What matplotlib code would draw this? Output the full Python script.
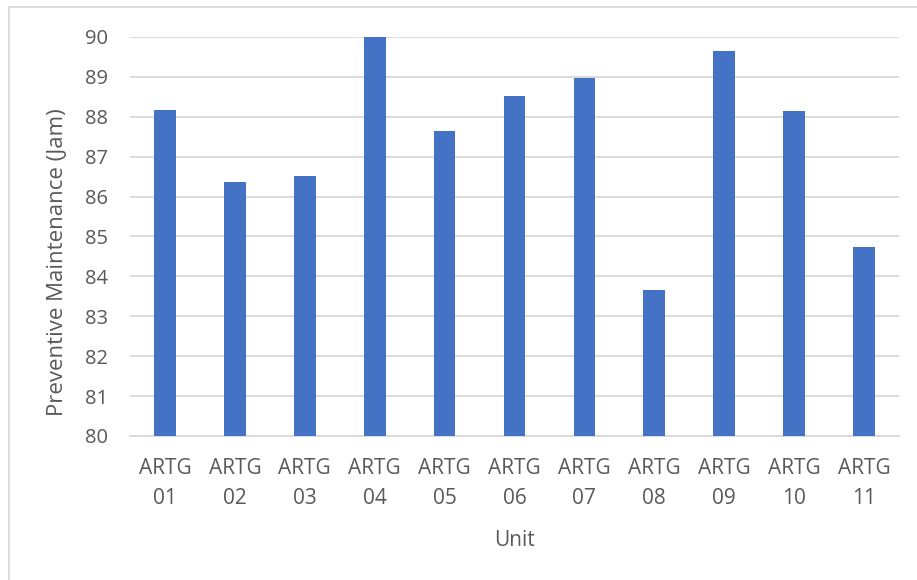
import matplotlib.pyplot as plt
from matplotlib.patches import Rectangle

units = ["ARTG\n01", "ARTG\n02", "ARTG\n03", "ARTG\n04", "ARTG\n05", "ARTG\n06",
         "ARTG\n07", "ARTG\n08", "ARTG\n09", "ARTG\n10", "ARTG\n11"]
pm_hours = [88.17, 86.37, 86.51, 89.99, 87.65, 88.53, 88.98, 83.67, 89.64, 88.15, 84.74]
y_ticks = [80, 81, 82, 83, 84, 85, 86, 87, 88, 89, 90]

BAR_COLOR = "#4472C4"
TEXT_COLOR = "#595959"
GRID_COLOR = "#D9D9D9"

plt.rcParams["font.family"] = ["Open Sans", "DejaVu Sans"]

fig = plt.figure(figsize=(9.17, 5.8), dpi=100)
ax = fig.add_axes([130 / 917, 1 - 436 / 580, 769 / 917, 399 / 580])

# chart area border (cut off on the right and bottom in the source)
fig.patches.append(Rectangle((9 / 917, -0.1), 1.2, 1 - 7 / 580 + 0.1,
                             transform=fig.transFigure, fill=False,
                             edgecolor=GRID_COLOR, linewidth=1.3))

x = list(range(len(units)))
ax.bar(x, pm_hours, width=0.31, color=BAR_COLOR, zorder=3)

ax.set_xlim(-0.5, len(units) - 0.5)
ax.set_ylim(80, 90)
ax.set_yticks(y_ticks)
ax.set_xticks(x)
ax.set_xticklabels(units, linespacing=1.55)

ax.grid(axis="y", color=GRID_COLOR, linewidth=1.3, zorder=0)
for side in ["top", "right", "left"]:
    ax.spines[side].set_visible(False)
ax.spines["bottom"].set_color(GRID_COLOR)
ax.spines["bottom"].set_linewidth(1.3)
ax.spines["bottom"].set_zorder(1)

ax.tick_params(axis="both", length=0, labelcolor=TEXT_COLOR)
ax.tick_params(axis="x", pad=16, labelsize=15)
ax.tick_params(axis="y", pad=16, labelsize=14.5)

ax.set_xlabel("Unit", fontsize=15, color=TEXT_COLOR, labelpad=15)
ax.set_ylabel("Preventive Maintenance (Jam)", fontsize=16, color=TEXT_COLOR)
ax.yaxis.set_label_coords(-0.081, 0.436)

fig.savefig("out.png", dpi=100)
